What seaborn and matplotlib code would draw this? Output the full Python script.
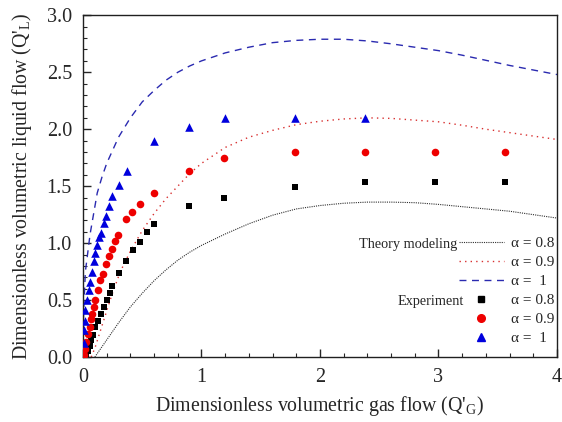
import numpy as np
import pandas as pd
import matplotlib
matplotlib.use("Agg")
import matplotlib.pyplot as plt
from matplotlib.lines import Line2D
from matplotlib.ticker import MultipleLocator
import seaborn as sns

# theory curves
th08_x = [0.10, 0.2, 0.3, 0.4, 0.5, 0.6, 0.7, 0.8, 0.9, 1.0, 1.2, 1.4, 1.6, 1.8, 2.0, 2.2, 2.4,
          2.6, 2.8, 3.0, 3.2, 3.4, 3.6, 3.8, 4.0]
th08_y = [0.0, 0.15, 0.30, 0.44, 0.56, 0.67, 0.765, 0.85, 0.92, 0.98, 1.08, 1.17, 1.245, 1.30,
          1.33, 1.35, 1.36, 1.36, 1.355, 1.34, 1.32, 1.30, 1.28, 1.25, 1.22]

th09_x = [0.07, 0.104, 0.174, 0.245, 0.315, 0.40, 0.5, 0.6, 0.7, 0.8, 0.9, 1.0, 1.2, 1.4, 1.6,
          1.8, 2.0, 2.2, 2.4, 2.6, 2.8, 3.0, 3.2, 3.4, 3.6, 3.8, 4.0]
th09_y = [0.0, 0.09, 0.32, 0.55, 0.75, 0.93, 1.11, 1.26, 1.39, 1.50, 1.61, 1.70, 1.84, 1.93, 1.99,
          2.04, 2.07, 2.09, 2.10, 2.095, 2.08, 2.065, 2.035, 2.0, 1.97, 1.94, 1.91]

th10_x = [0.0, 0.005, 0.02, 0.06, 0.12, 0.16, 0.2, 0.3, 0.4, 0.5, 0.6, 0.7, 0.8, 0.9, 1.0, 1.2,
          1.4, 1.6, 1.8, 2.0, 2.2, 2.4, 2.6, 2.8, 3.0, 3.2, 3.4, 3.6, 3.8, 4.0]
th10_y = [0.0, 0.40, 0.75, 1.08, 1.44, 1.58, 1.70, 1.93, 2.10, 2.24, 2.34, 2.43, 2.50, 2.555, 2.60,
          2.67, 2.72, 2.76, 2.78, 2.79, 2.79, 2.775, 2.75, 2.72, 2.69, 2.65, 2.605, 2.56, 2.52, 2.48]

# experiment points
ex08_x = [0.01, 0.025, 0.039, 0.056, 0.07, 0.084, 0.104, 0.127, 0.152, 0.174, 0.2, 0.225, 0.245,
          0.306, 0.363, 0.42, 0.485, 0.54, 0.599, 0.894, 1.192, 1.786, 2.376, 2.97, 3.56]
ex08_y = [0.01, 0.03, 0.05, 0.10, 0.15, 0.19, 0.26, 0.32, 0.38, 0.44, 0.50, 0.56, 0.62,
          0.735, 0.845, 0.94, 1.01, 1.10, 1.17, 1.33, 1.40, 1.49, 1.54, 1.54, 1.54]

ex09_x = [0.005, 0.015, 0.022, 0.04, 0.056, 0.068, 0.078, 0.09, 0.104, 0.127, 0.146, 0.169, 0.197,
          0.219, 0.245, 0.267, 0.292, 0.363, 0.41, 0.481, 0.599, 0.894, 1.193, 1.786, 2.376, 2.97, 3.56]
ex09_y = [0.02, 0.07, 0.13, 0.20, 0.26, 0.33, 0.38, 0.44, 0.50, 0.59, 0.68, 0.73, 0.82,
          0.89, 0.95, 1.02, 1.07, 1.21, 1.27, 1.34, 1.44, 1.63, 1.745, 1.80, 1.80, 1.80, 1.80]

ex10_x = [0.005, 0.008, 0.02, 0.02, 0.033, 0.048, 0.062, 0.076, 0.09, 0.104, 0.118, 0.138, 0.152,
          0.174, 0.197, 0.222, 0.247, 0.306, 0.368, 0.602, 0.897, 1.195, 1.786, 2.376]
ex10_y = [0.12, 0.24, 0.32, 0.41, 0.50, 0.59, 0.66, 0.75, 0.84, 0.91, 0.98, 1.05, 1.09,
          1.18, 1.24, 1.33, 1.41, 1.51, 1.63, 1.90, 2.02, 2.10, 2.10, 2.10]

labels = ["\u03b1 = 0.8", "\u03b1 = 0.9", "\u03b1 =  1"]

sns.set_style("ticks")
plt.rcParams["font.family"] = ["Liberation Serif", "DejaVu Serif"]
plt.rcParams["mathtext.fontset"] = "custom"
plt.rcParams["mathtext.rm"] = "Liberation Serif"

fig = plt.figure(figsize=(5.62, 4.22), dpi=100)
ax = fig.add_axes([0.1477, 0.154, 0.8433, 0.8097])

sns.lineplot(x=th08_x, y=th08_y, ax=ax, sort=False, color="#303030", lw=0.8,
             linestyle=(0, (1, 1)))
sns.lineplot(x=th09_x, y=th09_y, ax=ax, sort=False, color="#d83030", lw=1.0,
             linestyle=(0, (1, 3)))
sns.lineplot(x=th10_x, y=th10_y, ax=ax, sort=False, color="#2a2ab0", lw=1.0,
             linestyle=(0, (5, 4)))

sns.scatterplot(x=ex08_x, y=ex08_y, ax=ax, marker="s", s=22, color="black", linewidth=0, zorder=3)
sns.scatterplot(x=ex09_x, y=ex09_y, ax=ax, marker="o", s=30, color="#ee0000", linewidth=0, zorder=3)
sns.scatterplot(x=ex10_x, y=ex10_y, ax=ax, marker="^", s=38, color="#0000dd", linewidth=0, zorder=3)

ax.set_xlim(0, 4)
ax.set_ylim(0, 3.0)
ax.xaxis.set_major_locator(MultipleLocator(1))
ax.xaxis.set_minor_locator(MultipleLocator(0.2))
ax.yaxis.set_major_locator(MultipleLocator(0.5))
ax.yaxis.set_minor_locator(MultipleLocator(0.1))
ax.yaxis.set_major_formatter(matplotlib.ticker.FormatStrFormatter("%.1f"))
ax.tick_params(which="major", direction="in", length=6, width=1.0, labelsize=14.5)
ax.tick_params(axis="x", which="major", pad=8)
ax.tick_params(axis="y", which="major", pad=8)
ax.tick_params(which="minor", direction="in", length=3, width=0.8)
for sp in ax.spines.values():
    sp.set_linewidth(1.0)
    sp.set_color("#202020")

ax.set_xlabel(r"Dimensionless volumetric gas flow (Q'$_{\rm G}$)", fontsize=14.3, labelpad=5)
ax.set_ylabel(r"Dimensionless volumetric liquid flow (Q'$_{\rm L}$)", fontsize=14.3, labelpad=9)

handles = [
    Line2D([], [], color="#303030", lw=0.8, linestyle=(0, (1, 1))),
    Line2D([], [], color="#d83030", lw=1.0, linestyle=(0, (1, 3))),
    Line2D([], [], color="#2a2ab0", lw=1.0, linestyle=(0, (5, 4))),
    Line2D([], [], color="black", marker="s", ms=4.5, lw=0),
    Line2D([], [], color="#ee0000", marker="o", ms=5.5, lw=0),
    Line2D([], [], color="#0000dd", marker="^", ms=6, lw=0),
]
ax.legend(handles, labels + labels, loc="upper right", bbox_to_anchor=(1.0, 0.362),
          frameon=False, fontsize=11, handlelength=3.0, handletextpad=0.4,
          labelspacing=0.35, borderaxespad=0, borderpad=0.2)

ax.text(3.16, 0.99, "Theory modeling", ha="right", va="center", fontsize=10.3)
ax.text(3.21, 0.49, "Experiment", ha="right", va="center", fontsize=10.3)

fig.savefig("out.png", dpi=100)
